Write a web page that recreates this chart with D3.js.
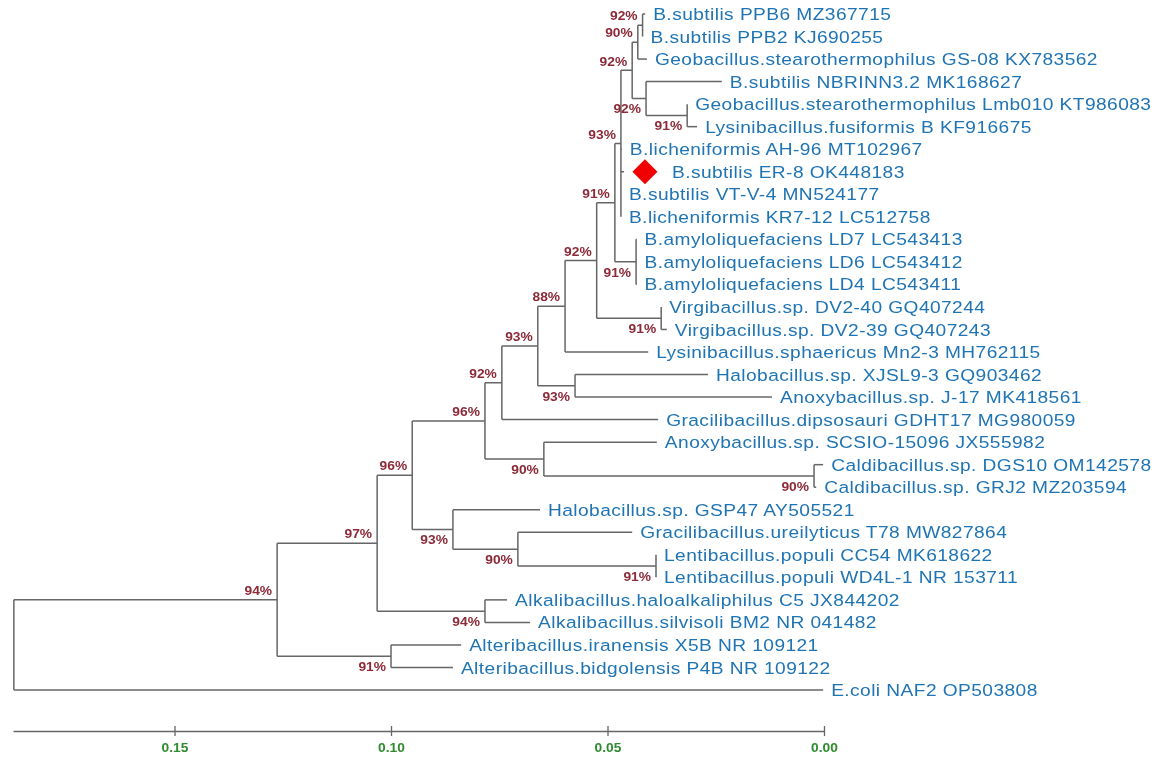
<!DOCTYPE html>
<html>
<head>
<meta charset="utf-8">
<script src="https://cdn.jsdelivr.net/npm/d3@7"></script>
<style>
  html, body { margin: 0; background: #fff; }
  svg { display: block; filter: blur(0.3px); }
</style>
</head>
<body>
<svg id="chart" width="1170" height="774"></svg>
<script>
const taxa = [
  "B.subtilis PPB6 MZ367715", "B.subtilis PPB2 KJ690255", "Geobacillus.stearothermophilus GS-08 KX783562",
  "B.subtilis NBRINN3.2 MK168627", "Geobacillus.stearothermophilus Lmb010 KT986083", "Lysinibacillus.fusiformis B KF916675",
  "B.licheniformis AH-96 MT102967", "B.subtilis ER-8 OK448183", "B.subtilis VT-V-4 MN524177", "B.licheniformis KR7-12 LC512758",
  "B.amyloliquefaciens LD7 LC543413", "B.amyloliquefaciens LD6 LC543412", "B.amyloliquefaciens LD4 LC543411",
  "Virgibacillus.sp. DV2-40 GQ407244", "Virgibacillus.sp. DV2-39 GQ407243", "Lysinibacillus.sphaericus Mn2-3 MH762115",
  "Halobacillus.sp. XJSL9-3 GQ903462", "Anoxybacillus.sp. J-17 MK418561", "Gracilibacillus.dipsosauri GDHT17 MG980059",
  "Anoxybacillus.sp. SCSIO-15096 JX555982", "Caldibacillus.sp. DGS10 OM142578", "Caldibacillus.sp. GRJ2 MZ203594",
  "Halobacillus.sp. GSP47 AY505521", "Gracilibacillus.ureilyticus T78 MW827864", "Lentibacillus.populi CC54 MK618622",
  "Lentibacillus.populi WD4L-1 NR 153711", "Alkalibacillus.haloalkaliphilus C5 JX844202", "Alkalibacillus.silvisoli BM2 NR 041482",
  "Alteribacillus.iranensis X5B NR 109121", "Alteribacillus.bidgolensis P4B NR 109122", "E.coli NAF2 OP503808"
];
// distance from the right edge of the scale to the end of each tip
const tipHeights = [
  .0413, .0419, .0409, .0236, .0316, .0293, .0467, .0462, .0469, .0469,
  .0433, .0433, .0433, .0376, .0363, .0406, .0268, .0120, .0383, .0386,
  .0002, .0018, .0656, .0443, .0388, .0388, .0732, .0679, .0838, .0857, .0002
];

// internal nodes, children first. numbers are taxa, "nK" is internal node K
const nodeChildren = [
  [0, 1], ["n0", 2], [4, 5], [3, "n2"], ["n1", "n3"], ["n4", 6, 7, 8, 9],
  [10, 11, 12], ["n5", "n6"], [13, 14], ["n7", "n8"], ["n9", 15], [16, 17],
  ["n10", "n11"], ["n12", 18], [20, 21], [19, "n14"], ["n13", "n15"],
  [24, 25], [23, "n17"], [22, "n18"], ["n16", "n19"], [26, 27], ["n20", "n21"],
  [28, 29], ["n22", "n23"], ["n24", 30]
];
const nodeHeights = [
  .0419, .0430, .0316, .0411, .0443, .0469, .0434, .0483, .0376, .0525, .0598, .0575,
  .0661, .0744, .0023, .0647, .0783, .0388, .0707, .0857, .0951, .0783, .1032,
  .1000, .1263, .1871
];
const nodeSupport = [
  92, 90, 91, 92, 92, 93, 91, 91, 91, 92, 88, 93,
  93, 92, 90, 90, 96, 91, 90, 93, 96, 94, 97, 91, 94, null
];
// true where the figure prints the support value under the branch
const supportBelow = [
  false, false, true, true, false, false, true, false, true, false, false, true,
  false, false, true, true, false, true, true, true, false, true, false, true, false, false
];
const axisTicks = [0.15, 0.10, 0.05, 0.00];
const markedTaxon = 7;

const lineColor = "#666666", labelColor = "#1f74b4", supportColor = "#8c2a38", tickColor = "#2e8b2e";
const labelGap = 8, markerGap = 21, markedLabelGap = 48;
// the source figure is stretched sideways, so its text is wider than the font
const labelStretch = 1.1, smallStretch = 1.15;

const x = d3.scaleLinear().domain([0.1873, 0]).range([13, 824]);
const y = d3.scalePoint().domain(taxa).range([14, 690]);

const svg = d3.select("#chart");

// build the tree out of the flat arrays
const lookup = ref => typeof ref === "number"
  ? { name: taxa[ref], taxon: ref, h: tipHeights[ref] }
  : makeNode(+ref.slice(1));
function makeNode(i) {
  return { h: nodeHeights[i], support: nodeSupport[i], below: supportBelow[i], children: nodeChildren[i].map(lookup) };
}
const root = d3.hierarchy(makeNode(nodeChildren.length - 1));
root.eachAfter(d => {
  d.px = x(d.data.h);
  d.py = d.children ? (d.children[0].py + d.children[d.children.length - 1].py) / 2 : y(d.data.name);
});

// branches
svg.append("g")
  .attr("fill", "none")
  .attr("stroke", lineColor)
  .attr("stroke-width", 1.5)
  .selectAll("path")
  .data(root.descendants().filter(d => d.parent || d.children))
  .join("path")
  .attr("d", d => {
    let s = d.parent ? `M${d.parent.px},${d.py}H${d.px}` : "";
    if (d.children) s += `M${d.px},${d.children[0].py}V${d.children[d.children.length - 1].py}`;
    return s;
  });

// taxon names
svg.append("g")
  .attr("font-family", "'Liberation Sans', Arial, sans-serif")
  .attr("font-size", 17.4)
  .attr("letter-spacing", 0.4)
  .attr("fill", labelColor)
  .selectAll("text")
  .data(root.leaves())
  .join("text")
  .attr("transform", d => `translate(${d.px + (d.data.taxon === markedTaxon ? markedLabelGap : labelGap)},${d.py}) scale(${labelStretch},1)`)
  .attr("dy", "0.35em")
  .text(d => d.data.name);

// support values
svg.append("g")
  .attr("font-family", "'Liberation Sans', Arial, sans-serif")
  .attr("font-size", 12)
  .attr("font-weight", "bold")
  .attr("fill", supportColor)
  .attr("text-anchor", "end")
  .selectAll("text")
  .data(root.descendants().filter(d => d.data.support != null))
  .join("text")
  .attr("transform", d => `translate(${d.px - 5},${d.py + (d.data.below ? 10.5 : -9)}) scale(${smallStretch},1)`)
  .attr("dy", "0.35em")
  .text(d => d.data.support + "%");

// red marker for the study strain
const marked = root.leaves().find(d => d.data.taxon === markedTaxon);
svg.append("path")
  .attr("d", d3.symbol(d3.symbolSquare, 312))
  .attr("fill", "#f00000")
  .attr("transform", `translate(${marked.px + markerGap},${marked.py}) rotate(45)`);

// scale bar
const axis = svg.append("g")
  .attr("transform", "translate(0,731)")
  .call(d3.axisBottom(x).tickValues(axisTicks).tickFormat(d3.format(".2f")).tickSize(5).tickPadding(7).tickSizeOuter(0));
axis.select(".domain").attr("stroke", lineColor).attr("stroke-width", 1.5);
axis.selectAll(".tick line").attr("y1", -5).attr("stroke", lineColor).attr("stroke-width", 1.3);
axis.selectAll(".tick text")
  .attr("font-family", "'Liberation Sans', Arial, sans-serif")
  .attr("font-size", 12)
  .attr("font-weight", "bold")
  .attr("transform", `scale(${smallStretch},1)`)
  .attr("fill", tickColor);
</script>
</body>
</html>
